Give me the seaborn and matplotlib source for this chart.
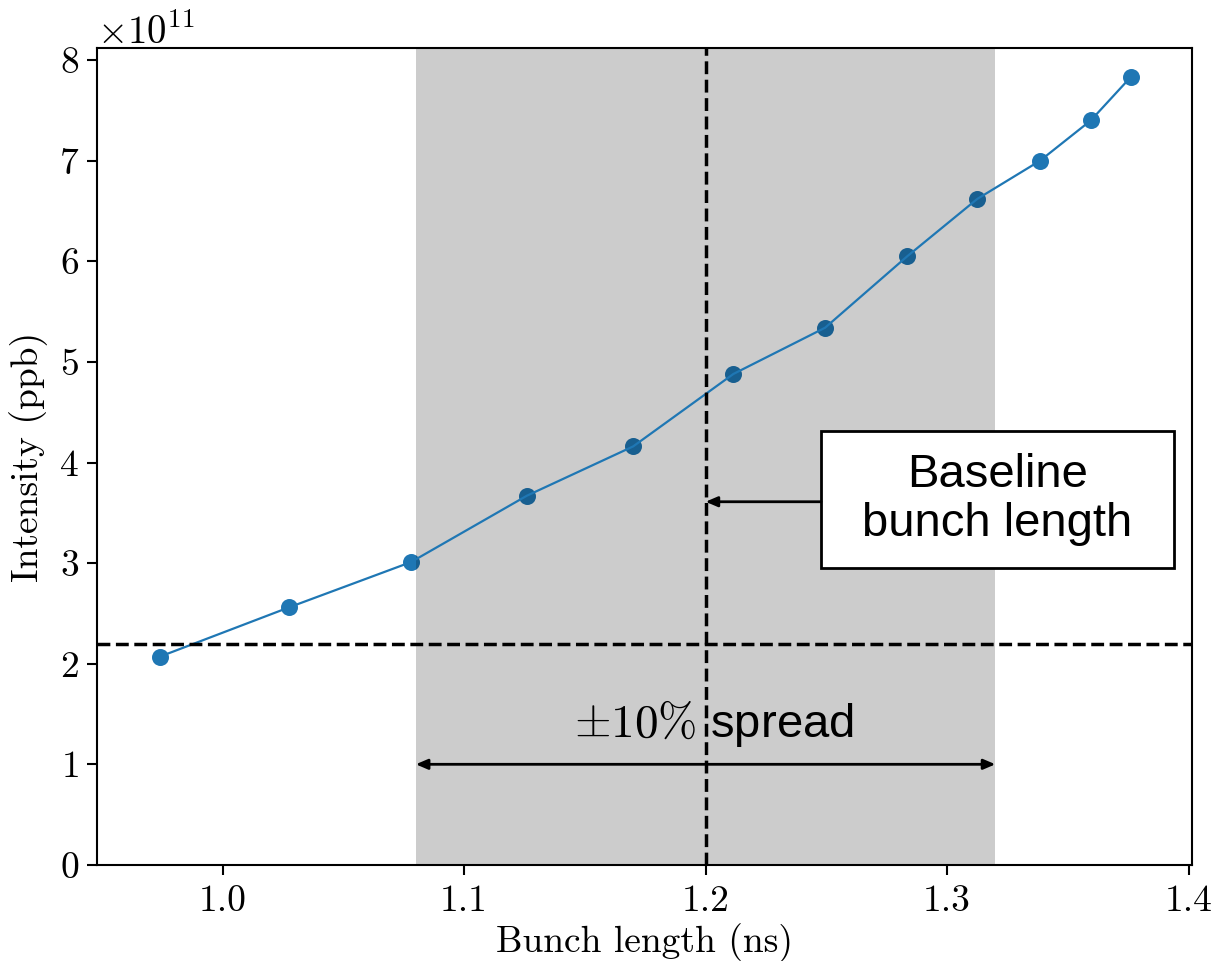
import numpy as np
import pandas as pd
import matplotlib
matplotlib.use("Agg")
import matplotlib.pyplot as plt
from matplotlib.patches import Rectangle
import seaborn as sns

# ---- data ----
bunch_length_ns = [0.974, 1.0275, 1.078, 1.126, 1.170, 1.2115, 1.2495, 1.2835, 1.3125, 1.3385, 1.3595, 1.376]
intensity_e11 = [2.07, 2.56, 3.01, 3.67, 4.16, 4.88, 5.34, 6.05, 6.62, 7.00, 7.40, 7.83]
baseline_length = 1.2
spread_low, spread_high = 1.08, 1.32
intensity_threshold_e11 = 2.2
x_ticks = [1.0, 1.1, 1.2, 1.3, 1.4]
y_ticks = [0, 1, 2, 3, 4, 5, 6, 7, 8]

df = pd.DataFrame({"Bunch length (ns)": bunch_length_ns,
                   "Intensity": np.array(intensity_e11) * 1e11})

sns.set_style("ticks")
plt.rcParams["font.family"] = ["cmr10", "DejaVu Serif"]
plt.rcParams["mathtext.fontset"] = "cm"
plt.rcParams["axes.formatter.use_mathtext"] = True
plt.rcParams["axes.unicode_minus"] = False
for k in ["text.color", "axes.labelcolor", "xtick.color", "ytick.color", "axes.edgecolor"]:
    plt.rcParams[k] = "black"

fig = plt.figure(figsize=(12.19, 9.61), dpi=100)
ax = fig.add_axes([0.0796, 0.100, 0.8984, 0.850])

sns.scatterplot(data=df, x="Bunch length (ns)", y="Intensity", ax=ax,
                color="#1f77b4", s=150, linewidth=0, zorder=2)
sns.lineplot(data=df, x="Bunch length (ns)", y="Intensity", ax=ax,
             color="#1f77b4", linewidth=1.6, zorder=5)

ax.axhline(intensity_threshold_e11 * 1e11, color="k", ls="--", lw=2.5, zorder=6)
ax.axvline(baseline_length, color="k", ls="--", lw=2.5, zorder=6)
ax.axvspan(spread_low, spread_high, color="k", alpha=0.2, lw=0, zorder=3)

ax.set_xlim(0.948, 1.4015)
ax.set_ylim(0, 8.12e11)
ax.set_xticks(x_ticks)
ax.set_yticks(np.array(y_ticks) * 1e11)
ax.set_xticklabels([f"{t:.1f}" for t in x_ticks])

ax.set_xlabel("Bunch length (ns)", fontsize=27, labelpad=4)
ax.set_ylabel("Intensity (ppb)", fontsize=27, labelpad=8)
ax.tick_params(axis="both", labelsize=27, length=7, width=1.5, direction="out", color="k")
ax.tick_params(axis="x", pad=7)
ax.tick_params(axis="y", pad=6)
ax.yaxis.get_offset_text().set_fontsize(28)
for s in ax.spines.values():
    s.set_linewidth(1.5)
    s.set_color("k")

# annotation box
box_x0, box_x1 = 1.2478, 1.3938
box_y0, box_y1 = 2.953e11, 4.309e11
ax.add_patch(Rectangle((box_x0, box_y0), box_x1 - box_x0, box_y1 - box_y0,
                       facecolor="white", edgecolor="k", lw=2, zorder=7))
ax.text((box_x0 + box_x1) / 2, (box_y0 + box_y1) / 2, "Baseline\nbunch length",
        ha="center", va="center", fontsize=34, family=["Liberation Sans"],
        linespacing=1.15, zorder=8)
ax.annotate("", xy=(baseline_length, 3.61e11), xytext=(box_x0, 3.61e11),
            arrowprops=dict(arrowstyle="-|>,head_length=0.7,head_width=0.3",
                            color="k", lw=2, shrinkA=0, shrinkB=0), zorder=7)

# spread arrow
ax.annotate("", xy=(spread_low, 1.0e11), xytext=(spread_high, 1.0e11),
            arrowprops=dict(arrowstyle="<|-|>,head_length=0.7,head_width=0.3",
                            color="k", lw=2, shrinkA=0, shrinkB=0), zorder=7)
ax.text(1.2035, 1.41e11, r"$\pm10\%$ spread", ha="center", va="center",
        fontsize=34, family=["Liberation Sans"], zorder=8)

fig.savefig("out.png", dpi=100)
